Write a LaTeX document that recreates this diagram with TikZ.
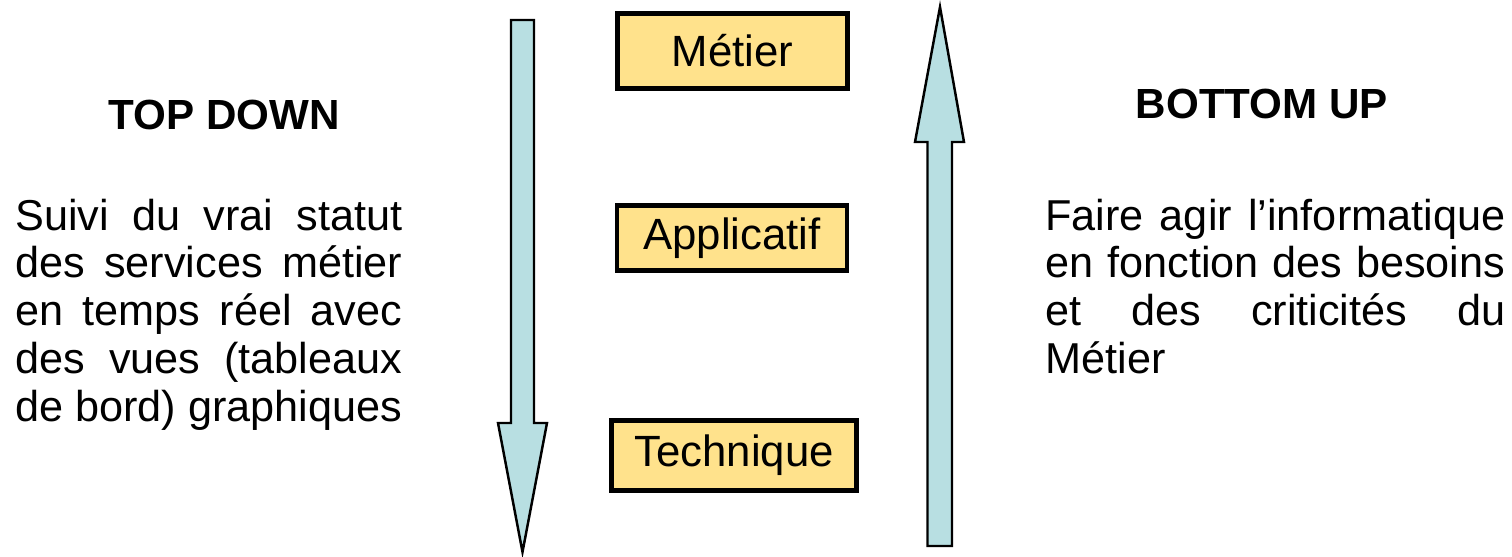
\documentclass[tikz,border=0pt]{standalone}
\usepackage{fontspec}
\setmainfont{Liberation Sans}
\usepackage{tikz}
\usetikzlibrary{positioning}
\definecolor{paleblue}{RGB}{184,223,226}
\definecolor{paleyellow}{RGB}{255,226,140}
\tikzstyle{level}=[%
      rectangle, draw=black, line width=2.8pt, fill=paleyellow,
      inner sep=0pt, align=center, font=\fontsize{24.9}{27.3}\selectfont
]
\tikzstyle{flow}=[%
      draw=black, line width=1.4pt, fill=paleblue, line join=miter
]
\tikzstyle{title}=[%
      inner sep=0pt, font=\bfseries\fontsize{24}{27.3}\selectfont
]
\tikzstyle{body}=[%
      inner sep=0pt, align=justify, font=\fontsize{24.6}{27.3}\selectfont
]

\begin{document}
\begin{tikzpicture}[x=0.02cm, y=-0.02cm]
    \useasboundingbox (0,0) rectangle (1512,556);

    % the three levels
    \node[level, minimum width=4.6cm, minimum height=1.5cm]  (metier)    at (732.5,51)  {Métier};
    \node[level, minimum width=4.6cm, minimum height=1.3cm]  (appli)     at (732,238)   {Applicatif};
    \node[level, minimum width=4.9cm, minimum height=1.4cm]  (technique) at (734,455.5) {Technique};

    % downward arrow
    \draw[flow] (511,20) -- (534,20) -- (534,423) -- (547,423) -- (522.5,552)
                -- (498,423) -- (511,423) -- cycle;
    % upward arrow
    \draw[flow] (940,7) -- (964,142) -- (952,142) -- (952,546) -- (927.5,546)
                -- (927.5,142) -- (915,142) -- cycle;

    % left side
    \node[title] (topdown) at (224,115) {TOP DOWN};
    \node[body, text width=7.74cm, anchor=base west] (suivi) at (15,230)
        {Suivi du vrai statut\linebreak des services métier\linebreak
         en temps réel avec\linebreak des vues (tableaux\linebreak
         de bord) graphiques};

    % right side
    \node[title] (bottomup) at (1262,104) {BOTTOM UP};
    \node[body, text width=9.2cm, anchor=base west] (faire) at (1045,230)
        {Faire agir l’informatique\linebreak en fonction des besoins\linebreak
         et des criticités du\linebreak Métier};
\end{tikzpicture}
\end{document}
